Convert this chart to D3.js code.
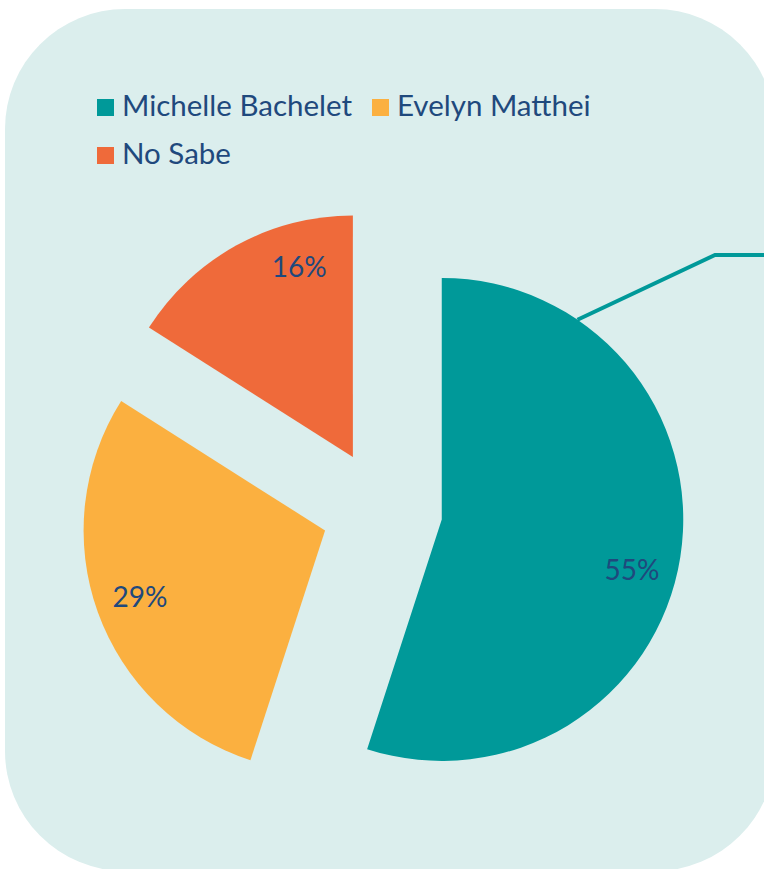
<!DOCTYPE html>
<html>
<head>
<meta charset="utf-8">
<script src="https://cdn.jsdelivr.net/npm/d3@7"></script>
<style>
  html, body { margin: 0; padding: 0; background: #ffffff; }
  svg { display: block; }
</style>
</head>
<body>
<div id="chart"></div>
<script>
// Survey result: vote intention
const categories = ["Michelle Bachelet", "Evelyn Matthei", "No Sabe"];
const values = [55, 29, 16];
const labels = ["55%", "29%", "16%"];
const colors = ["#009999", "#FBB040", "#EF6A3A"];
// angular nudge (degrees) for each percentage label relative to slice mid-angle
const labelNudge = [6, 0, 13];

const W = 764, H = 869;
const textColor = "#1F497D";
const font = "Lato, 'Open Sans', sans-serif";

const svg = d3.select("#chart").append("svg")
  .attr("width", W).attr("height", H);

// rounded panel
svg.append("rect")
  .attr("x", 5).attr("y", 9)
  .attr("width", 770).attr("height", 862)
  .attr("rx", 120).attr("ry", 120)
  .attr("fill", "#DBEEED");

// legend
const legendItems = [
  { x: 97, y: 99 },
  { x: 372, y: 99 },
  { x: 97, y: 147 }
];
const legend = svg.append("g");
categories.forEach((c, i) => {
  const g = legend.append("g").attr("transform", `translate(${legendItems[i].x},${legendItems[i].y})`);
  g.append("rect").attr("width", 17).attr("height", 17).attr("fill", colors[i]);
  g.append("text")
    .attr("x", 25).attr("y", 17)
    .attr("font-family", font).attr("font-size", 29.5)
    .attr("fill", textColor)
    .text(c);
});

// pie
const cx = 382, cy = 510, r = 241.5, explode = 60.5;
const pie = d3.pie().sort(null).value(d => d);
const arcs = pie(values);
const arc = d3.arc().innerRadius(0).outerRadius(r);

const pieG = svg.append("g").attr("transform", `translate(${cx},${cy})`);

const slices = pieG.selectAll("g.slice").data(arcs).join("g")
  .attr("class", "slice")
  .attr("transform", d => {
    const a = (d.startAngle + d.endAngle) / 2;
    return `translate(${explode * Math.sin(a)},${-explode * Math.cos(a)})`;
  });

slices.append("path")
  .attr("d", arc)
  .attr("fill", (d, i) => colors[i]);

slices.append("text")
  .attr("transform", (d, i) => {
    const a = (d.startAngle + d.endAngle) / 2 + labelNudge[i] * Math.PI / 180;
    const lr = r * 0.815;
    return `translate(${lr * Math.sin(a)},${-lr * Math.cos(a)})`;
  })
  .attr("text-anchor", "middle")
  .attr("dy", "0.35em")
  .attr("font-family", font).attr("font-size", 28)
  .attr("fill", textColor)
  .text((d, i) => labels[i]);

// leader line from the Bachelet slice
const first = arcs[0];
const midA = (first.startAngle + first.endAngle) / 2;
const ox = cx + explode * Math.sin(midA), oy = cy - explode * Math.cos(midA);
const la = 34.2 * Math.PI / 180;
const p0 = [ox + r * Math.sin(la), oy - r * Math.cos(la)];
svg.append("path")
  .attr("d", d3.line()([p0, [715, 255], [770, 255]]))
  .attr("fill", "none")
  .attr("stroke", "#009999")
  .attr("stroke-width", 4);
</script>
</body>
</html>
